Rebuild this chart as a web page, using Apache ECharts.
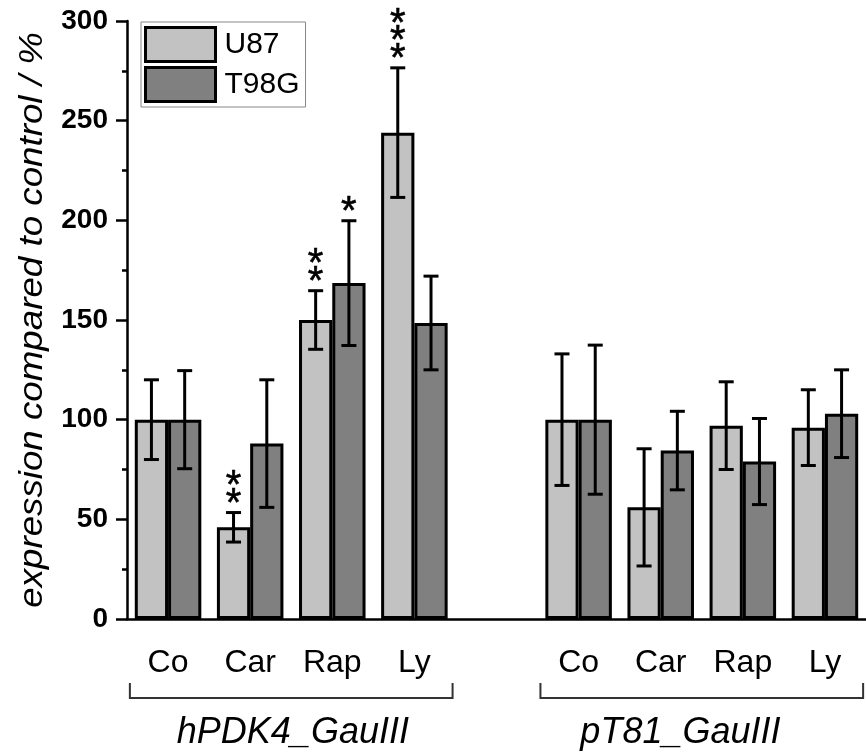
<!DOCTYPE html>
<html>
<head>
<meta charset="utf-8">
<script src="https://cdn.jsdelivr.net/npm/echarts@6/dist/echarts.min.js"></script>
<style>html,body{margin:0;padding:0;background:#fff}#chart{width:866px;height:753px}</style>
</head>
<body>
<div id="chart"></div>
<script>
// ---- data ----
const categories = ['Co', 'Car', 'Rap', 'Ly', '', 'Co', 'Car', 'Rap', 'Ly'];
const seriesNames = ['U87', 'T98G'];
const u87 = [100, 46, 150, 244, null, 100, 56, 97, 96];
const t98g = [100, 88, 168.5, 148.5, null, 100, 84.5, 79, 103];
const u87Err = [20, 7.4, 14.7, 32.5, null, 33, 29.4, 22, 19];
const t98gErr = [24.6, 32, 31.3, 23.5, null, 37.4, 19.7, 21.6, 22];
const u87Stars = [0, 2, 2, 3, 0, 0, 0, 0, 0];
const t98gStars = [0, 0, 1, 0, 0, 0, 0, 0, 0];
const yTicks = { min: 0, max: 300, interval: 50 };
const groupLabels = ['hPDK4_GauIII', 'pT81_GauIII'];
const groupRanges = [[0, 3], [5, 8]];
const yTitle = 'expression compared to control / %';

const FONT = '"Liberation Sans", Arial, sans-serif';
const colors = ['#c2c2c2', '#808080'];

const chart = echarts.init(document.getElementById('chart'));

function errData(vals, errs, stars) {
  const out = [];
  vals.forEach((v, i) => { if (v != null) out.push([i, v, errs[i], stars[i]]); });
  return out;
}

function makeRender(offFrac) {
  return function (params, api) {
    const i = api.value(0), v = api.value(1), e = api.value(2), n = api.value(3);
    const band = api.size([1, 0])[0];
    const cx = api.coord([i, v])[0] + offFrac * band;
    const top = api.coord([i, v + e])[1];
    const bot = api.coord([i, v - e])[1];
    const cap = 7.5;
    const ls = { stroke: '#000', lineWidth: 3 };
    const children = [
      { type: 'line', shape: { x1: cx, y1: top, x2: cx, y2: bot }, style: ls },
      { type: 'line', shape: { x1: cx - cap, y1: top, x2: cx + cap, y2: top }, style: ls },
      { type: 'line', shape: { x1: cx - cap, y1: bot, x2: cx + cap, y2: bot }, style: ls }
    ];
    for (let k = 0; k < n; k++) {
      const yc = top - 17 - 17.5 * k;
      children.push({
        type: 'text',
        style: { text: '*', x: cx, y: yc + 9, font: '40px ' + FONT, fill: '#000', align: 'center', verticalAlign: 'middle', stroke: '#000', lineWidth: 0.6 }
      });
    }
    return { type: 'group', children };
  };
}

const barItem = (c) => ({ color: c, borderColor: '#000', borderWidth: 3 });

chart.setOption({
  animation: false,
  backgroundColor: '#fff',
  grid: { left: 127, right: -4, top: 21, bottom: 134, containLabel: false },
  legend: {
    data: seriesNames,
    orient: 'vertical',
    left: 141, top: 22,
    padding: [4, 6, 4, 3],
    itemGap: 3,
    itemWidth: 70, itemHeight: 34,
    icon: 'rect',
    borderColor: '#888', borderWidth: 1,
    itemStyle: { borderColor: '#000', borderWidth: 3 },
    textStyle: { fontSize: 30, color: '#000', fontFamily: FONT, padding: [0, 0, 0, 4] }
  },
  xAxis: [
    {
      type: 'category', data: categories, position: 'bottom',
      axisLine: { lineStyle: { color: '#000', width: 2.5 } },
      axisTick: { alignWithLabel: true, length: 12, lineStyle: { color: '#000', width: 2.5 } },
      axisLabel: { fontSize: 32, color: '#000', fontFamily: FONT, margin: 28, interval: 0 }
    },
    {
      type: 'category', data: categories, position: 'bottom',
      axisLine: { show: false },
      axisTick: { length: 5, lineStyle: { color: '#000', width: 2.5 } },
      axisLabel: { show: false }
    }
  ],
  yAxis: {
    type: 'value', min: yTicks.min, max: yTicks.max, interval: yTicks.interval,
    axisLine: { show: true, lineStyle: { color: '#000', width: 2.5 } },
    axisTick: { show: true, length: 11, lineStyle: { color: '#000', width: 2.5 } },
    minorTick: { show: true, splitNumber: 2, length: 5, lineStyle: { color: '#000', width: 2.5 } },
    splitLine: { show: false },
    axisLabel: { fontSize: 28, fontWeight: 'bold', color: '#000', fontFamily: FONT, margin: 19 }
  },
  series: [
    { name: seriesNames[0], type: 'bar', data: u87, barGap: '0%', barCategoryGap: '19%', itemStyle: barItem(colors[0]) },
    { name: seriesNames[1], type: 'bar', data: t98g, barGap: '0%', barCategoryGap: '19%', itemStyle: barItem(colors[1]) },
    { type: 'custom', renderItem: makeRender(-0.2025), data: errData(u87, u87Err, u87Stars), z: 5, encode: { x: 0, y: 1 } },
    { type: 'custom', renderItem: makeRender(0.2025), data: errData(t98g, t98gErr, t98gStars), z: 5, encode: { x: 0, y: 1 } }
  ]
});

// annotations (brackets, group labels, y title) positioned from the axis scale
const p0 = chart.convertToPixel({ xAxisIndex: 0 }, 0);
const p1 = chart.convertToPixel({ xAxisIndex: 0 }, 1);
const band = p1 - p0;
const yBase = chart.convertToPixel({ yAxisIndex: 0 }, 0);
const yTop = chart.convertToPixel({ yAxisIndex: 0 }, yTicks.max);
const graphics = [];
const labelFrac = [0.52, 0.24];
groupRanges.forEach((r, gi) => {
  const xl = chart.convertToPixel({ xAxisIndex: 0 }, r[0]) - 0.465 * band;
  const xr = chart.convertToPixel({ xAxisIndex: 0 }, r[1]) + 0.465 * band;
  const yb = yBase + 79, yt = yBase + 64;
  graphics.push({
    type: 'polyline', shape: { points: [[xl, yt], [xl, yb], [xr, yb], [xr, yt]] },
    style: { stroke: '#333', lineWidth: 2, fill: null }
  });
  const lx = chart.convertToPixel({ xAxisIndex: 0 }, r[0] + 1) + labelFrac[gi] * band;
  graphics.push({
    type: 'text', x: lx, y: yBase + 114,
    style: { text: groupLabels[gi], font: 'italic 36px ' + FONT, fill: '#000', align: 'center', verticalAlign: 'middle', textAlign: 'center', textVerticalAlign: 'middle' }
  });
});
graphics.push({
  type: 'text', x: 33, y: (yBase + yTop) / 2, rotation: Math.PI / 2, scaleX: 1.08,
  style: { text: yTitle, font: 'italic 34px ' + FONT, fill: '#000', align: 'center', verticalAlign: 'middle', textAlign: 'center', textVerticalAlign: 'middle' }
});
chart.setOption({ graphic: graphics });
</script>
</body>
</html>
